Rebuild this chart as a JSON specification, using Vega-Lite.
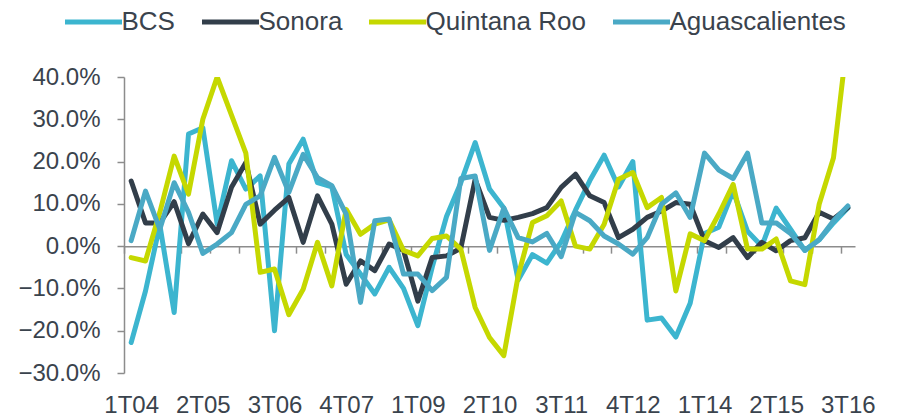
{
  "$schema": "https://vega.github.io/schema/vega-lite/v6.json",
  "width": 731,
  "height": 296,
  "autosize": {"type": "none"},
  "padding": {"left": 124, "top": 77, "right": 44, "bottom": 45},
  "background": "white",
  "config": {"view": {"stroke": null}, "font": "Liberation Sans"},
  "data": {"values": [
    {"q": "1T04", "BCS": -22.8, "Sonora": 15.4, "Quintana Roo": -2.7, "Aguascalientes": 1.3},
    {"q": "2T04", "BCS": -10.6, "Sonora": 5.5, "Quintana Roo": -3.5, "Aguascalientes": 13},
    {"q": "3T04", "BCS": 5, "Sonora": 5.5, "Quintana Roo": 8, "Aguascalientes": 4},
    {"q": "4T04", "BCS": -15.7, "Sonora": 10.5, "Quintana Roo": 21.3, "Aguascalientes": 15},
    {"q": "1T05", "BCS": 26.5, "Sonora": 0.6, "Quintana Roo": 12.3, "Aguascalientes": 8},
    {"q": "2T05", "BCS": 28, "Sonora": 7.6, "Quintana Roo": 30, "Aguascalientes": -1.7},
    {"q": "3T05", "BCS": 5.2, "Sonora": 3.2, "Quintana Roo": 40, "Aguascalientes": 0.5},
    {"q": "4T05", "BCS": 20.2, "Sonora": 13.9, "Quintana Roo": 31, "Aguascalientes": 3.2},
    {"q": "1T06", "BCS": 13.5, "Sonora": 19.8, "Quintana Roo": 22, "Aguascalientes": 9.9},
    {"q": "2T06", "BCS": 16.6, "Sonora": 5.2, "Quintana Roo": -6.2, "Aguascalientes": 11.9},
    {"q": "3T06", "BCS": -20, "Sonora": 8.5, "Quintana Roo": -5.4, "Aguascalientes": 21},
    {"q": "4T06", "BCS": 19.4, "Sonora": 11.5, "Quintana Roo": -16.2, "Aguascalientes": 12.7},
    {"q": "1T07", "BCS": 25.3, "Sonora": 0.9, "Quintana Roo": -10.2, "Aguascalientes": 21.7},
    {"q": "2T07", "BCS": 15, "Sonora": 11.9, "Quintana Roo": 0.9, "Aguascalientes": 16.2},
    {"q": "3T07", "BCS": 14, "Sonora": 5.2, "Quintana Roo": -9.4, "Aguascalientes": 14.3},
    {"q": "4T07", "BCS": -2, "Sonora": -9, "Quintana Roo": 8.7, "Aguascalientes": 7.6},
    {"q": "1T08", "BCS": -6.6, "Sonora": -3.5, "Quintana Roo": 2.8, "Aguascalientes": -13.3},
    {"q": "2T08", "BCS": -11.3, "Sonora": -5.8, "Quintana Roo": 5.2, "Aguascalientes": 6},
    {"q": "3T08", "BCS": -5, "Sonora": 0.5, "Quintana Roo": 6.2, "Aguascalientes": 6.4},
    {"q": "4T08", "BCS": -10, "Sonora": -1, "Quintana Roo": -1, "Aguascalientes": -6.6},
    {"q": "1T09", "BCS": -18.8, "Sonora": -13, "Quintana Roo": -2.3, "Aguascalientes": -6.6},
    {"q": "2T09", "BCS": -5, "Sonora": -2.7, "Quintana Roo": 1.8, "Aguascalientes": -10.5},
    {"q": "3T09", "BCS": 7, "Sonora": -2.3, "Quintana Roo": 2.4, "Aguascalientes": -7.4},
    {"q": "4T09", "BCS": 15, "Sonora": -0.5, "Quintana Roo": -0.7, "Aguascalientes": 16},
    {"q": "1T10", "BCS": 24.5, "Sonora": 15.8, "Quintana Roo": -14.5, "Aguascalientes": 16.6},
    {"q": "2T10", "BCS": 13.5, "Sonora": 6.8, "Quintana Roo": -21.6, "Aguascalientes": -1},
    {"q": "3T10", "BCS": 9, "Sonora": 6.1, "Quintana Roo": -25.9, "Aguascalientes": 9},
    {"q": "4T10", "BCS": -8, "Sonora": 6.8, "Quintana Roo": -7, "Aguascalientes": 2},
    {"q": "1T11", "BCS": -2, "Sonora": 7.7, "Quintana Roo": 5.6, "Aguascalientes": 1},
    {"q": "2T11", "BCS": -4, "Sonora": 9.1, "Quintana Roo": 7.2, "Aguascalientes": 3},
    {"q": "3T11", "BCS": 1, "Sonora": 13.9, "Quintana Roo": 10.7, "Aguascalientes": -2.5},
    {"q": "4T11", "BCS": 8.5, "Sonora": 17, "Quintana Roo": 0, "Aguascalientes": 8},
    {"q": "1T12", "BCS": 15.5, "Sonora": 11.9, "Quintana Roo": -0.7, "Aguascalientes": 6},
    {"q": "2T12", "BCS": 21.5, "Sonora": 10.3, "Quintana Roo": 5.2, "Aguascalientes": 2.4},
    {"q": "3T12", "BCS": 14, "Sonora": 2, "Quintana Roo": 15.8, "Aguascalientes": 0.5},
    {"q": "4T12", "BCS": 20, "Sonora": 4, "Quintana Roo": 17.4, "Aguascalientes": -1.9},
    {"q": "1T13", "BCS": -17.5, "Sonora": 6.8, "Quintana Roo": 9.1, "Aguascalientes": 2},
    {"q": "2T13", "BCS": -17, "Sonora": 8.3, "Quintana Roo": 11.5, "Aguascalientes": 9.9},
    {"q": "3T13", "BCS": -21.5, "Sonora": 10.3, "Quintana Roo": -10.6, "Aguascalientes": 12.6},
    {"q": "4T13", "BCS": -13.5, "Sonora": 9.9, "Quintana Roo": 2.9, "Aguascalientes": 6.8},
    {"q": "1T14", "BCS": 3, "Sonora": 1.3, "Quintana Roo": 1.3, "Aguascalientes": 22},
    {"q": "2T14", "BCS": 4.5, "Sonora": -0.3, "Quintana Roo": 7.6, "Aguascalientes": 18},
    {"q": "3T14", "BCS": 13, "Sonora": 2, "Quintana Roo": 14.6, "Aguascalientes": 16},
    {"q": "4T14", "BCS": 3.5, "Sonora": -2.7, "Quintana Roo": -0.7, "Aguascalientes": 22},
    {"q": "1T15", "BCS": 0, "Sonora": 0.9, "Quintana Roo": -0.7, "Aguascalientes": 5.5},
    {"q": "2T15", "BCS": 9, "Sonora": -1.1, "Quintana Roo": 1.7, "Aguascalientes": 5.5},
    {"q": "3T15", "BCS": 4, "Sonora": 1.3, "Quintana Roo": -8.2, "Aguascalientes": 3},
    {"q": "4T15", "BCS": -1, "Sonora": 2, "Quintana Roo": -9.1, "Aguascalientes": -1},
    {"q": "1T16", "BCS": 1.5, "Sonora": 8, "Quintana Roo": 9.9, "Aguascalientes": 1.5},
    {"q": "2T16", "BCS": 5.5, "Sonora": 6.4, "Quintana Roo": 20.9, "Aguascalientes": 6},
    {"q": "3T16", "BCS": 9, "Sonora": 9.1, "Quintana Roo": 50, "Aguascalientes": 9.5}
  ]},
  "transform": [
    {"fold": ["BCS", "Sonora", "Quintana Roo", "Aguascalientes"], "as": ["serie", "valor"]}
  ],
  "mark": {"type": "line", "strokeWidth": 5, "strokeJoin": "round", "strokeCap": "round", "clip": true},
  "encoding": {
    "x": {
      "field": "q",
      "type": "ordinal",
      "sort": null,
      "scale": {"type": "point", "padding": 0.5},
      "axis": {
        "title": null,
        "orient": "bottom",
        "offset": -126.86,
        "labelAngle": 0,
        "domainColor": "#8C8C8C",
        "domainWidth": 1.5,
        "tickColor": "#8C8C8C",
        "tickWidth": 1.5,
        "tickSize": 7,
        "tickOffset": -7.167,
        "labelOffset": 7.167,
        "tickOpacity": {"condition": {"test": "substring(datum.value,0,1) == '1' || substring(datum.value,0,1) == '3'", "value": 1}, "value": 0},
        "labelExpr": "indexof(['1T04','2T05','3T06','4T07','1T09','2T10','3T11','4T12','1T14','2T15','3T16'], datum.value) >= 0 ? datum.value : ''",
        "labelOverlap": false,
        "labelPadding": 140,
        "labelFontSize": 24,
        "labelColor": "#3A434D",
        "grid": false
      }
    },
    "y": {
      "field": "valor",
      "type": "quantitative",
      "scale": {"domain": [-30, 40], "nice": false, "zero": false},
      "axis": {
        "title": null,
        "values": [-30, -20, -10, 0, 10, 20, 30, 40],
        "labelExpr": "format(datum.value, '.1f') + '%'",
        "grid": false,
        "domainColor": "#8C8C8C",
        "domainWidth": 1.5,
        "tickColor": "#8C8C8C",
        "tickWidth": 1.5,
        "tickSize": 7,
        "labelPadding": 17,
        "labelFontSize": 24,
        "labelColor": "#3A434D"
      }
    },
    "color": {
      "field": "serie",
      "type": "nominal",
      "scale": {
        "domain": ["BCS", "Sonora", "Quintana Roo", "Aguascalientes"],
        "range": ["#3CB5CF", "#323E4A", "#C5D800", "#4AA9C5"]
      },
      "legend": {
        "title": null,
        "orient": "none",
        "direction": "horizontal",
        "legendX": -61.5,
        "legendY": -86,
        "symbolType": "stroke",
        "symbolSize": 3249,
        "symbolStrokeWidth": 5,
        "labelFontSize": 26,
        "labelLimit": 0,
        "labelColor": "#3A434D",
        "labelOffset": -3,
        "columnPadding": 16
      }
    }
  }
}
